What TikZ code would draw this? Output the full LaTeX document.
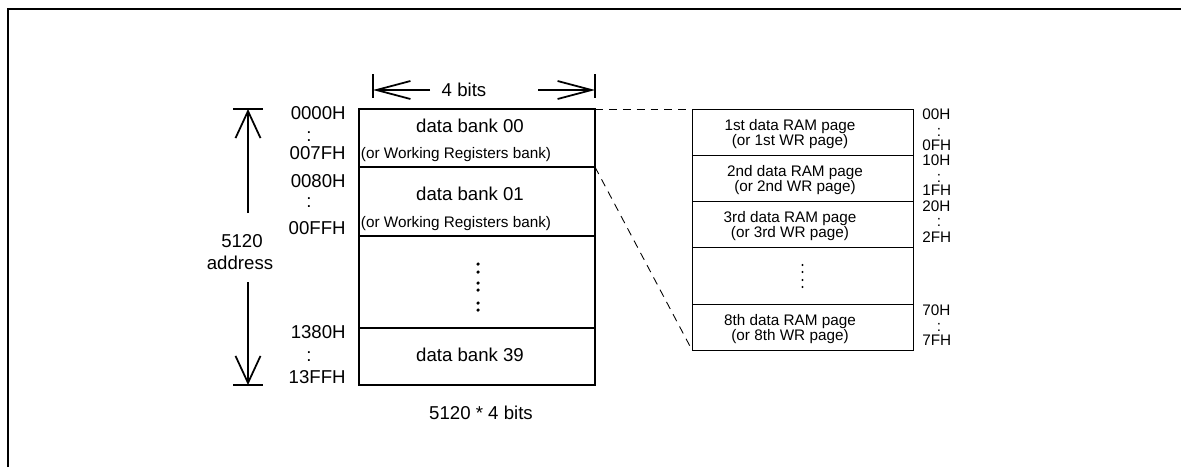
\documentclass[tikz,border=0pt]{standalone}
\usepackage{fontspec}
\setmainfont{Liberation Sans}
\usetikzlibrary{
    arrows.meta,
    positioning
}
\tikzset{
    bankbox/.style={draw, line width=1.1pt, minimum width=4.72cm, inner sep=0pt, outer sep=0pt},
    pagebox/.style={draw, line width=0.55pt, minimum width=4.42cm, inner sep=0pt, outer sep=0pt},
    bigtxt/.style={font=\fontsize{10.6}{12}\selectfont, inner sep=0pt},
    smalltxt/.style={font=\fontsize{8.7}{8.7}\selectfont, inner sep=0pt, align=center},
    bankdot/.style={circle, fill=black, inner sep=0pt, minimum size=2pt},
    pagedot/.style={circle, fill=black, inner sep=0pt, minimum size=1.3pt},
    bitsarrow/.style={-{Straight Barb[length=0.68cm, width=0.36cm]}, line width=1pt},
    addrarrow/.style={-{Straight Barb[length=0.54cm, width=0.5cm]}, line width=1pt},
    zoomline/.style={dash pattern=on 4.5pt off 3.4pt, line width=0.5pt}
}

\begin{document}
\begin{tikzpicture}
    \useasboundingbox (0, 0) rectangle (23.62, -9.34);
    \draw[line width=1.1pt] (0.16, -9.34) -- (0.16, -0.18) -- (23.62, -0.18);

    % data memory, 40 banks
    \node[bankbox, minimum height=1.16cm, anchor=north west] (bank00) at (7.18, -2.18) {};
    \node[bankbox, minimum height=1.38cm, below=0pt of bank00] (bank01) {};
    \node[bankbox, minimum height=1.84cm, below=0pt of bank01] (bankdots) {};
    \node[bankbox, minimum height=1.14cm, below=0pt of bankdots] (bank39) {};
    \node[bigtxt, anchor=base] (b00txt) at (9.40, -2.64) {data bank 00};
    \node[smalltxt, anchor=base] (b00wr) at (9.12, -3.16) {(or Working Registers bank)};
    \node[bigtxt, anchor=base] (b01txt) at (9.40, -4.00) {data bank 01};
    \node[smalltxt, anchor=base] (b01wr) at (9.12, -4.54) {(or Working Registers bank)};
    \node[bigtxt, anchor=base] (b39txt) at (9.40, -7.22) {data bank 39};
    \foreach \y in {-5.28, -5.44, -5.66, -5.80, -6.06, -6.20}
        \node[bankdot] at (9.56, \y) {};
    \node[bigtxt, anchor=base] (total) at (9.62, -8.38) {5120 * 4 bits};

    % addresses
    \node[bigtxt, anchor=east] (a0000) at (6.92, -2.27) {0000H};
    \node[bigtxt] (c1) at (6.18, -2.74) {:};
    \node[bigtxt, anchor=east] (a007f) at (6.92, -3.06) {007FH};
    \node[bigtxt, anchor=east] (a0080) at (6.92, -3.63) {0080H};
    \node[bigtxt] (c2) at (6.18, -4.06) {:};
    \node[bigtxt, anchor=east] (a00ff) at (6.92, -4.56) {00FFH};
    \node[bigtxt, anchor=east] (a1380) at (6.92, -6.64) {1380H};
    \node[bigtxt] (c3) at (6.18, -7.14) {:};
    \node[bigtxt, anchor=east] (a13ff) at (6.92, -7.54) {13FFH};

    % width
    \coordinate (bitsL) at (7.46, -1.80);
    \coordinate (bitsR) at (11.90, -1.80);
    \coordinate (bitsLs) at (8.60, -1.80);
    \coordinate (bitsRs) at (10.76, -1.80);
    \draw[line width=1pt] (7.46, -1.48) -- (7.46, -1.96);
    \draw[line width=1pt] (11.90, -1.48) -- (11.90, -1.96);
    \draw[bitsarrow] (bitsLs) -- (bitsL);
    \draw[bitsarrow] (bitsRs) -- (bitsR);
    \node[bigtxt, anchor=base] (bits) at (9.28, -1.92) {4 bits};

    % depth
    \coordinate (addrT) at (4.96, -2.18);
    \coordinate (addrB) at (4.96, -7.70);
    \coordinate (addrTs) at (4.96, -4.26);
    \coordinate (addrBs) at (4.96, -5.64);
    \draw[line width=1pt] (4.66, -2.18) -- (5.26, -2.18);
    \draw[line width=1pt] (4.66, -7.70) -- (5.26, -7.70);
    \draw[addrarrow] (addrTs) -- (addrT);
    \draw[addrarrow] (addrBs) -- (addrB);
    \node[bigtxt, anchor=base] (size) at (4.84, -4.94) {5120};
    \node[bigtxt, anchor=base] (sizeunit) at (4.80, -5.38) {address};

    % pages of one bank
    \node[pagebox, minimum height=0.92cm, anchor=north west] (page1) at (13.84, -2.18) {};
    \node[pagebox, minimum height=0.92cm, below=0pt of page1] (page2) {};
    \node[pagebox, minimum height=0.92cm, below=0pt of page2] (page3) {};
    \node[pagebox, minimum height=1.14cm, below=0pt of page3] (pagedots) {};
    \node[pagebox, minimum height=0.92cm, below=0pt of pagedots] (page8) {};
    \node[smalltxt] (p1txt) at ([xshift=-0.25cm, yshift=-0.04cm]page1.center) {1st data RAM page\\(or 1st WR page)};
    \node[smalltxt] (p2txt) at ([xshift=-0.15cm, yshift=-0.04cm]page2.center) {2nd data RAM page\\(or 2nd WR page)};
    \node[smalltxt] (p3txt) at ([xshift=-0.25cm, yshift=-0.04cm]page3.center) {3rd data RAM page\\(or 3rd WR page)};
    \node[smalltxt] (p8txt) at ([xshift=-0.25cm, yshift=-0.04cm]page8.center) {8th data RAM page\\(or 8th WR page)};
    \foreach \d in {0.21, 0.07, -0.09, -0.23}
        \node[pagedot] at ([yshift=\d cm]pagedots.center) {};

    % page addresses
    \node[smalltxt, anchor=west] (h00) at (18.44, -2.28) {00H};
    \node[smalltxt] (d1) at (18.78, -2.64) {:};
    \node[smalltxt, anchor=west] (h0f) at (18.44, -2.90) {0FH};
    \node[smalltxt, anchor=west] (h10) at (18.44, -3.20) {10H};
    \node[smalltxt] (d2) at (18.78, -3.56) {:};
    \node[smalltxt, anchor=west] (h1f) at (18.44, -3.80) {1FH};
    \node[smalltxt, anchor=west] (h20) at (18.44, -4.12) {20H};
    \node[smalltxt] (d3) at (18.78, -4.44) {:};
    \node[smalltxt, anchor=west] (h2f) at (18.44, -4.74) {2FH};
    \node[smalltxt, anchor=west] (h70) at (18.44, -6.20) {70H};
    \node[smalltxt] (d8) at (18.78, -6.54) {:};
    \node[smalltxt, anchor=west] (h7f) at (18.44, -6.80) {7FH};

    % zoom
    \draw[zoomline] (bank00.north east) -- (page1.north west);
    \draw[zoomline] (bank00.south east) -- (page8.south west);
\end{tikzpicture}
\end{document}
